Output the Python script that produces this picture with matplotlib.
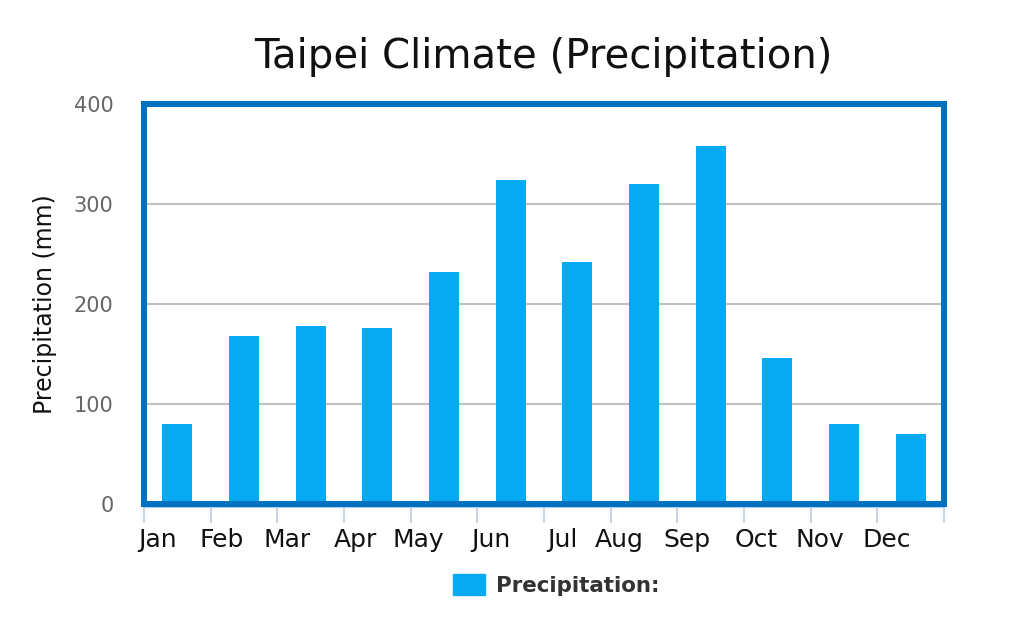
import matplotlib
matplotlib.use('Agg')
import matplotlib.pyplot as plt
from matplotlib.patches import Patch

# Taipei monthly precipitation (mm)
months = ['Jan', 'Feb', 'Mar', 'Apr', 'May', 'Jun',
          'Jul', 'Aug', 'Sep', 'Oct', 'Nov', 'Dec']
precip = [80.5, 168.5, 178.5, 176.5, 232.5, 324.5,
          242.5, 320.5, 358.5, 146.5, 80.5, 70.5]
yticks = [0, 100, 200, 300, 400]

bar_color = '#05aaf0'
border_color = '#0070c0'

fig = plt.figure(figsize=(10.15, 6.29), dpi=100)
ax = fig.add_axes([144 / 1015, 1 - 504 / 629, 800 / 1015, 400 / 629])

x = list(range(len(months)))
ax.bar(x, precip, width=0.45, color=bar_color, zorder=3)

ax.set_xlim(-0.5, len(months) - 0.5)
ax.set_ylim(0, 400)

# grid
ax.set_yticks(yticks)
ax.set_yticklabels([str(v) for v in yticks], color='#666666', fontsize=15)
ax.tick_params(axis='y', length=0, pad=22)
ax.grid(axis='y', color='#c0c0c0', lw=1.5, zorder=0)

# month labels right-aligned at bar centre
ax.set_xticks(x)
ax.set_xticklabels(months, fontsize=18, ha='right', color='#111111')
ax.tick_params(axis='x', which='major', length=0, pad=17)

# category boundary ticks below the axis
ax.set_xticks([i - 0.5 for i in range(len(months) + 1)], minor=True)
ax.tick_params(axis='x', which='minor', length=14, width=1.5, color='#c8d4e0',
               direction='out', pad=0)

for s in ax.spines.values():
    s.set_color(border_color)
    s.set_linewidth(4.3)
    s.set_zorder(5)

# thin light axis line just under the border
ax.plot([-0.5, len(months) - 0.5], [-0.0075, -0.0075], color='#a9cbe8', lw=1.5,
        transform=ax.get_xaxis_transform(), clip_on=False, zorder=4)

ax.set_ylabel('Precipitation (mm)', fontsize=17, color='#111111', labelpad=12)
fig.text(543 / 1015, 1 - 57 / 629, 'Taipei Climate (Precipitation)',
         fontsize=29, ha='center', va='center', color='#111111')

leg = fig.legend(handles=[Patch(color=bar_color, label='Precipitation:')],
                 loc='center', bbox_to_anchor=(556 / 1015, 1 - 585 / 629),
                 frameon=False, handlelength=1.5, handleheight=1.1,
                 handletextpad=0.5,
                 prop={'weight': 'bold', 'size': 15.4})
for t in leg.get_texts():
    t.set_color('#333333')

fig.savefig('out.png', dpi=100, facecolor='white')
